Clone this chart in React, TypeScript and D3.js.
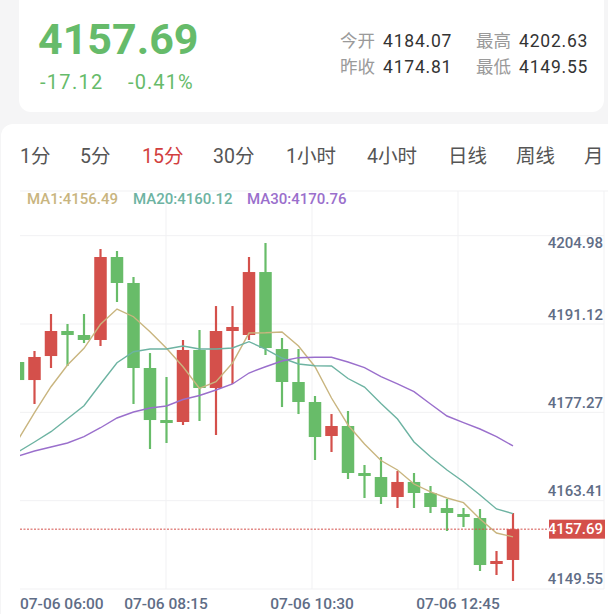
import React from "react";
import { scaleLinear, line, range, min, max } from "d3";

// header quote
const lastPrice = "4157.69";
const change = "-17.12";
const changePct = "-0.41%";
const statLabels = ["今开", "最高", "昨收", "最低"];
const statValues = ["4184.07", "4202.63", "4174.81", "4149.55"];

// period tabs
const tabs = ["1分", "5分", "15分", "30分", "1小时", "4小时", "日线", "周线", "月"];
const activeTab = "15分";

// 15 minute candles
const opens = [4183.94, 4181.11, 4184.88, 4188.81, 4188.18, 4187.4, 4200.43, 4196.35, 4183.0, 4174.83, 4174.52, 4185.83, 4179.86, 4188.81, 4188.18, 4198.07, 4185.98, 4180.8, 4177.66, 4172.32, 4173.89, 4166.51, 4165.88, 4162.74, 4165.1, 4163.37, 4161.01, 4160.07, 4159.44, 4152.22, 4152.85];
const closes = [4181.11, 4184.73, 4188.81, 4188.18, 4187.4, 4200.43, 4196.35, 4183.0, 4174.83, 4174.36, 4185.83, 4179.86, 4188.81, 4189.44, 4198.07, 4186.14, 4180.8, 4177.66, 4172.16, 4173.89, 4166.51, 4166.04, 4162.74, 4165.1, 4163.37, 4161.17, 4160.23, 4159.6, 4152.06, 4152.69, 4157.69];
const highs = [4185.5, 4185.67, 4191.48, 4189.91, 4191.48, 4201.69, 4201.37, 4197.29, 4185.35, 4181.59, 4187.4, 4188.97, 4192.73, 4192.73, 4200.43, 4202.63, 4187.71, 4185.98, 4178.6, 4175.77, 4176.25, 4167.77, 4169.02, 4166.82, 4166.51, 4164.47, 4162.43, 4161.01, 4160.86, 4154.26, 4160.23];
const lows = [4179.5, 4177.35, 4183.0, 4183.31, 4186.92, 4186.45, 4193.36, 4177.35, 4170.28, 4171.22, 4174.05, 4174.68, 4172.48, 4180.49, 4187.4, 4185.04, 4176.87, 4175.77, 4168.55, 4169.81, 4165.57, 4162.58, 4161.64, 4161.01, 4161.01, 4160.23, 4157.4, 4158.03, 4151.12, 4150.49, 4149.55];

// moving averages
const ma1 = [4171.69, 4175.98, 4180.06, 4183.47, 4186.09, 4189.86, 4192.26, 4191.05, 4188.7, 4186.09, 4183.2, 4179.78, 4180.85, 4183.78, 4188.49, 4188.54, 4188.65, 4186.45, 4183.2, 4178.29, 4174.05, 4171.06, 4168.47, 4166.98, 4164.78, 4163.53, 4162.58, 4161.85, 4159.29, 4157.09, 4156.49];
const ma20 = [4169.81, 4171.38, 4173.0, 4175.04, 4177.08, 4180.49, 4183.83, 4185.56, 4185.98, 4185.98, 4186.45, 4185.98, 4185.98, 4186.14, 4187.13, 4185.98, 4184.57, 4183.63, 4183.36, 4183.31, 4181.35, 4180.01, 4177.42, 4174.99, 4171.38, 4169.07, 4166.98, 4165.14, 4163.06, 4160.86, 4160.12];
const ma30 = [4169.18, 4169.96, 4170.59, 4171.22, 4172.21, 4173.62, 4175.15, 4176.09, 4176.72, 4177.03, 4178.05, 4178.68, 4179.54, 4180.49, 4182.21, 4183.2, 4184.1, 4184.62, 4184.68, 4184.68, 4183.94, 4183.05, 4181.66, 4180.49, 4179.28, 4177.35, 4175.46, 4174.41, 4173.42, 4172.21, 4170.76];

const yTicks = [4204.98, 4191.12, 4177.27, 4163.41, 4149.55];
const xTickLabels = ["07-06 06:00", "07-06 08:15", "07-06 10:30", "07-06 12:45"];

const W = 608;
const H = 614;
const FONT = "Roboto, 'Noto Sans CJK SC', sans-serif";
const UP = "#d4504b";
const DOWN = "#68bc69";
const GRID = "#f1f1f3";
const AXIS_TEXT = "#5f6d86";

const pane = { left: 20, right: 604, top: 235.7, bottom: 589 };
const maColors = ["#c9b57f", "#6db3a2", "#9a6fcc"];

export default function App() {
  const n = closes.length;
  const x = scaleLinear().domain([0, n - 1]).range([18, 513]);
  const bodyW = 12.5;

  const y = scaleLinear()
    .domain([min(lows)!, max(highs)!])
    .range([pane.bottom - 8, pane.top + 7.3]);

  const xGrid = scaleLinear().domain([0, 4]).range([pane.left, pane.right]);
  const hGrid = range(5).map((k) => pane.top + (k * (pane.bottom - pane.top)) / 4);

  const maLine = line<number>()
    .x((_, i) => x(i))
    .y((d) => y(d));

  const last = closes[n - 1];
  const lastY = y(last);

  const tabX = [20, 80, 142, 213, 286, 367, 448, 516, 584];

  return (
    <svg
      width={W}
      height={H}
      style={{ position: "absolute", left: 0, top: 0, display: "block" }}
      fontFamily={FONT}
    >
      <rect width={W} height={H} fill="#f5f5f6" />
      {/* quote card */}
      <rect x={19} y={-14} width={585} height={126} rx={12} fill="#fff" />
      <text x={38} y={54} fontSize={43} fontWeight="bold" fill="#66bb6a">
        {lastPrice}
      </text>
      <text x={40} y={89} fontSize={20} letterSpacing={1.3} fill="#66bb6a">
        {change}
      </text>
      <text x={128} y={89} fontSize={20} letterSpacing={1.1} fill="#66bb6a">
        {changePct}
      </text>
      {statLabels.map((l, i) => {
        const col = i % 2;
        const row = Math.floor(i / 2);
        const bx = col === 0 ? 340 : 476;
        const by = 47 + row * 26;
        return (
          <g key={l}>
            <text x={bx} y={by} fontSize={17.5} fill="#9a9a9a">
              {l}
            </text>
            <text x={bx + 43} y={by} fontSize={17.5} letterSpacing={0.8} fill="#333">
              {statValues[i]}
            </text>
          </g>
        );
      })}

      {/* chart panel */}
      <rect x={1} y={124} width={W + 20} height={H} rx={12} fill="#fff" />
      {tabs.map((t, i) => (
        <text
          key={t}
          x={tabX[i]}
          y={163}
          fontSize={19.5}
          fill={t === activeTab ? "#d23e3e" : "#555"}
        >
          {t}
        </text>
      ))}

      {/* grid */}
      <line x1={pane.left} x2={W} y1={191} y2={191} stroke={GRID} />
      {hGrid.map((gy, i) => (
        <line key={i} x1={pane.left} x2={pane.right} y1={gy} y2={gy} stroke={GRID} />
      ))}
      {[1, 2, 3, 4].map((k) => (
        <line key={k} x1={xGrid(k)} x2={xGrid(k)} y1={191} y2={pane.bottom} stroke={GRID} />
      ))}

      {/* legend */}
      <text y={204} fontSize={15} fontWeight={500}>
        <tspan x={27} fill={maColors[0]}>{`MA1:${ma1[n - 1].toFixed(2)}`}</tspan>
        <tspan x={133} fill={maColors[1]}>{`MA20:${ma20[n - 1].toFixed(2)}`}</tspan>
        <tspan x={247} fill={maColors[2]}>{`MA30:${ma30[n - 1].toFixed(2)}`}</tspan>
      </text>

      <defs>
        <clipPath id="pane">
          <rect x={pane.left} y={191} width={pane.right - pane.left} height={pane.bottom - 191} />
        </clipPath>
      </defs>

      <g clipPath="url(#pane)">
        {closes.map((c, i) => {
          const o = opens[i];
          const color = c >= o ? UP : DOWN;
          const top = y(Math.max(o, c));
          const bot = y(Math.min(o, c));
          return (
            <g key={i}>
              <line
                x1={x(i)}
                x2={x(i)}
                y1={y(highs[i])}
                y2={y(lows[i])}
                stroke={color}
                strokeWidth={2.2}
              />
              <rect
                x={x(i) - bodyW / 2}
                y={top}
                width={bodyW}
                height={Math.max(bot - top, 2.5)}
                fill={color}
              />
            </g>
          );
        })}
        {[ma1, ma20, ma30].map((s, k) => (
          <path key={k} d={maLine(s) || ""} fill="none" stroke={maColors[k]} strokeWidth={1.4} />
        ))}
      </g>

      {/* last price line */}
      <line
        x1={pane.left}
        x2={549}
        y1={lastY}
        y2={lastY}
        stroke={UP}
        strokeWidth={1}
        strokeDasharray="2,1.5"
      />
      <rect x={549} y={lastY - 9.5} width={56} height={19} fill={UP} />
      <text
        x={603}
        y={lastY}
        fontSize={15}
        fontWeight={500}
        textAnchor="end"
        dominantBaseline="central"
        fill="#fff"
      >
        {last.toFixed(2)}
      </text>

      {/* y axis labels */}
      {yTicks.map((v) => {
        const ty = Math.min(Math.max(y(v) - 1.5, pane.top + 7.5), pane.bottom - 10);
        return (
          <text
            key={v}
            x={603}
            y={ty}
            fontSize={15}
            fontWeight={500}
            textAnchor="end"
            dominantBaseline="central"
            fill={AXIS_TEXT}
          >
            {v.toFixed(2)}
          </text>
        );
      })}

      {/* x axis labels */}
      {xTickLabels.map((l, k) => (
        <text
          key={l}
          x={xGrid(k)}
          y={604}
          fontSize={15.5}
          fontWeight={500}
          textAnchor={k === 0 ? "start" : "middle"}
          dominantBaseline="central"
          fill={AXIS_TEXT}
        >
          {l}
        </text>
      ))}
    </svg>
  );
}
